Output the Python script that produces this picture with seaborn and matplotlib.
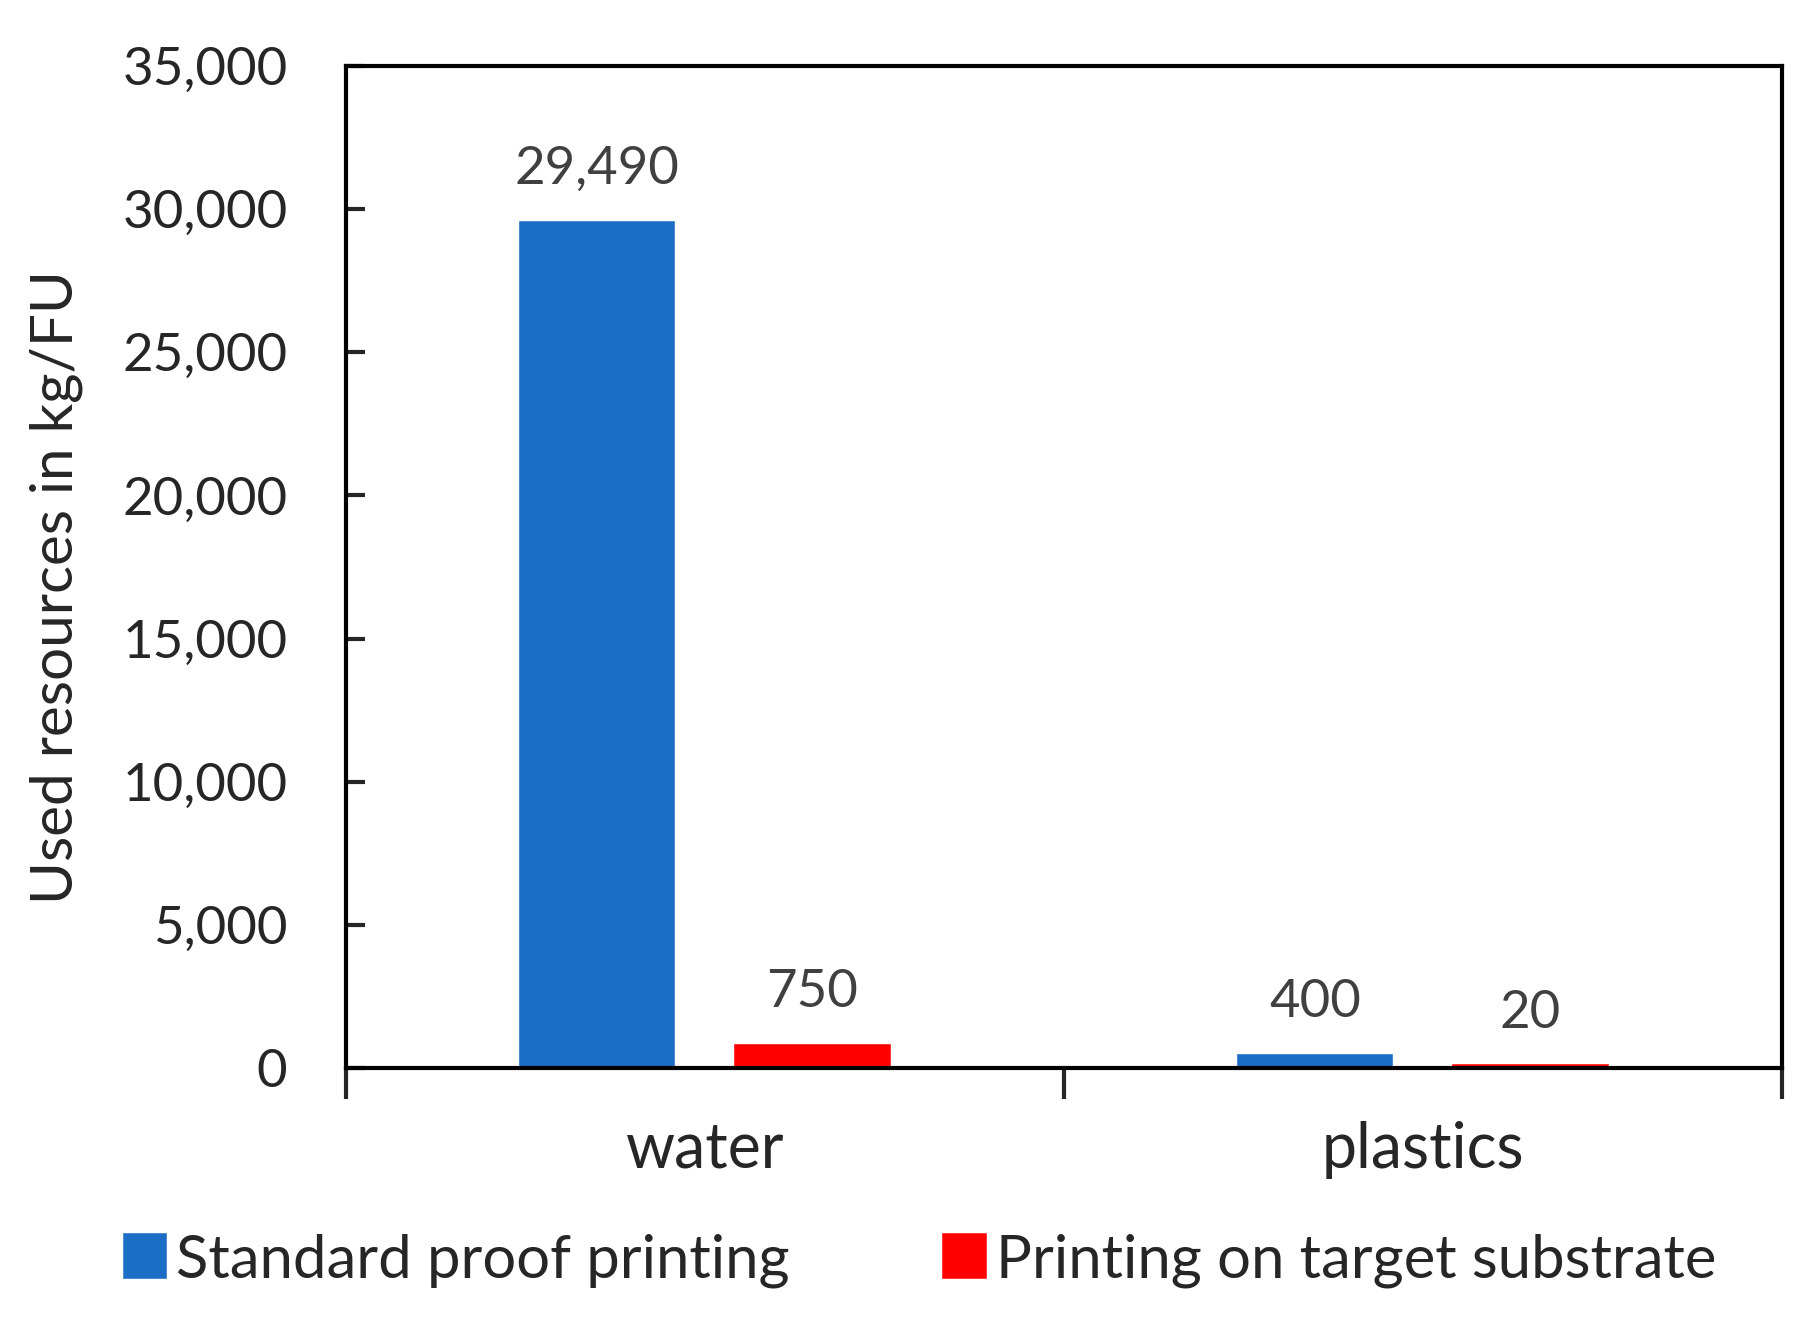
import pandas as pd
import seaborn as sns
import matplotlib.pyplot as plt
from matplotlib.ticker import FuncFormatter, FixedLocator

# Values
resources = ['water', 'plastics']
standard_proof = [29490, 400]
target_substrate = [750, 20]
series_names = ['Standard proof printing', 'Printing on target substrate']
y_ticks = [0, 5000, 10000, 15000, 20000, 25000, 30000, 35000]

# Long table for seaborn
df = pd.DataFrame({
    'resource': resources * 2,
    'value': standard_proof + target_substrate,
    'method': [series_names[0]] * 2 + [series_names[1]] * 2,
})

sns.set_style('white')
plt.rcParams['font.family'] = ['Lato', 'DejaVu Sans']

fig = plt.figure(figsize=(18.2, 13.31), dpi=100)
ax = fig.add_axes([0.190, 0.1976, 0.789, 0.7528])

sns.barplot(data=df, x='resource', y='value', hue='method',
            palette=['#1B6DC6', '#FF0000'], width=0.6, gap=0.3,
            saturation=1, ax=ax, legend=True)

# edge in the same colour so the tiny bars still show, like in the original
for p in ax.patches:
    p.set_edgecolor(p.get_facecolor())
    p.set_linewidth(4)

# Value labels above bars
for c in ax.containers:
    ax.bar_label(c, labels=[f'{v:,.0f}' for v in c.datavalues],
                 padding=22, fontsize=38, color='#404040')

ax.set_ylim(0, 35000)
ax.set_xlim(-0.5, 1.5)
ax.set_yticks(y_ticks)
ax.yaxis.set_major_formatter(FuncFormatter(lambda v, p: f'{v:,.0f}'))
ax.tick_params(axis='y', direction='in', length=14, width=3, labelsize=38,
               pad=42, left=True)
ax.tick_params(axis='x', length=0, labelsize=45, pad=38)
ax.xaxis.set_minor_locator(FixedLocator([-0.5, 0.5, 1.5]))
ax.tick_params(axis='x', which='minor', direction='out', length=22, width=3,
               bottom=True)

ax.set_xlabel('')
ax.set_ylabel('Used resources in kg/FU', fontsize=42, labelpad=28)
ax.yaxis.label.set_y(0.48)
for s in ax.spines.values():
    s.set_color('black')
    s.set_linewidth(3)

# Legend below the plot
handles, labels = ax.get_legend_handles_labels()
ax.get_legend().remove()
fig.legend(handles, labels, loc='center', bbox_to_anchor=(0.506, 0.053),
           ncol=2, frameon=False, fontsize=43, handlelength=0.65,
           handleheight=0.65, handletextpad=0.2, columnspacing=2.6)

plt.savefig('out.png')
